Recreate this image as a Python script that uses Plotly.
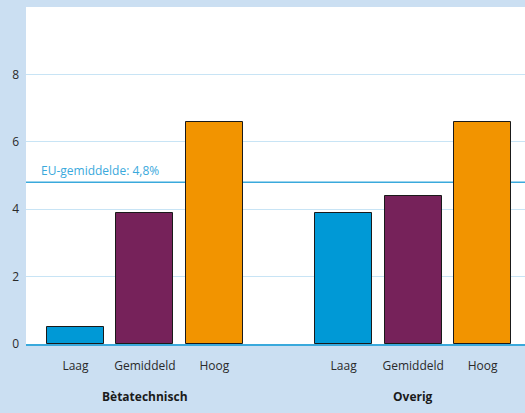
import plotly.graph_objects as go

niveaus = ["Laag", "Gemiddeld", "Hoog"]
groepen = ["Bètatechnisch", "Overig"]
betatechnisch = [0.5, 3.9, 6.6]
overig = [3.9, 4.4, 6.6]
eu_gemiddelde = 4.8
kleuren = ["#0099d6", "#76225a", "#f29400"]

# numeric x positions so the gap between the two groups can be wider
pos_beta = [0, 1, 2]
pos_overig = [3.86, 4.86, 5.86]

fig = go.Figure()
fig.add_trace(go.Bar(x=pos_beta + pos_overig, y=betatechnisch + overig,
                     width=0.82, marker=dict(color=kleuren * 2,
                                             line=dict(color="#1a1a1a", width=1)),
                     showlegend=False, hoverinfo="y"))

fig.add_hline(y=eu_gemiddelde, line_color="#3aa9dc", line_width=1.5, layer="below")
fig.add_annotation(x=-0.52, y=eu_gemiddelde, xref="x", yref="y", text="EU-gemiddelde: 4,8%",
                   showarrow=False, xanchor="left", yanchor="bottom", yshift=1,
                   font=dict(color="#3aa9dc", size=12))

for naam, pos in zip(groepen, [pos_beta, pos_overig]):
    fig.add_annotation(x=pos[1], y=0, xref="x", yref="paper", yshift=-52,
                       yanchor="middle", text=f"<b>{naam}</b>", showarrow=False,
                       font=dict(color="#1a1a1a", size=12))

fig.update_layout(
    width=525, height=413,
    paper_bgcolor="#cbdff2", plot_bgcolor="white",
    margin=dict(l=26, r=0, t=7, b=69),
    font=dict(family="Open Sans, Noto Sans, sans-serif", size=12, color="#2a2a2a"),
    bargap=0,
)
fig.update_xaxes(range=[-0.712, 6.47], tickvals=pos_beta + pos_overig,
                 ticktext=niveaus * 2, showgrid=False, zeroline=False,
                 ticks="", ticklabelstandoff=10, showline=True,
                 linecolor="#3aa9dc", linewidth=1.5)
fig.update_yaxes(range=[0, 10], tickvals=[0, 2, 4, 6, 8], showgrid=True,
                 gridcolor="#c8e4f5", gridwidth=1, zeroline=False,
                 ticks="", ticklabelstandoff=6, showline=False)

fig.write_html("out.html", config={"displayModeBar": False},
               post_script="document.body.style.margin='0';")
